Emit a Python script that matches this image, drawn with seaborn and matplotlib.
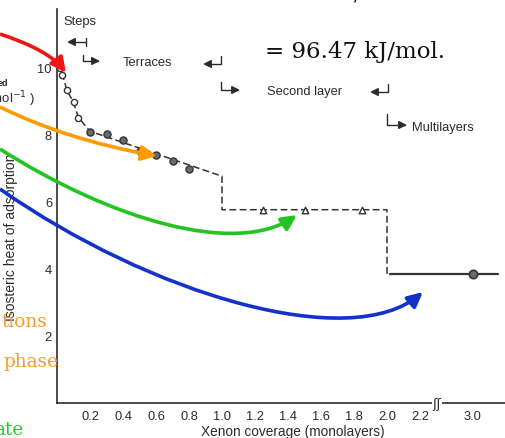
import numpy as np
import matplotlib
matplotlib.use("Agg")
import matplotlib.pyplot as plt
import seaborn as sns
from matplotlib.patches import FancyArrowPatch
from matplotlib.path import Path

# ---------------- data ----------------
step_x = [0.02, 0.03, 0.06, 0.10, 0.13]
step_y = [10.00, 9.77, 9.33, 8.96, 8.51]
terrace_x = [0.20, 0.30, 0.40, 0.50, 0.60, 0.70, 0.80]
terrace_y = [8.07, 8.02, 7.84, 7.50, 7.38, 7.21, 6.96]
second_x = [1.25, 1.50, 1.85]
second_y = [5.76, 5.76, 5.76]
multi_x = [3.0]
multi_y = [3.84]
fit_x = [0.01, 0.02, 0.06, 0.10, 0.13, 0.20, 1.00, 1.00, 2.00, 2.00]
fit_y = [10.12, 10.00, 9.33, 8.96, 8.51, 8.10, 6.76, 5.76, 5.76, 3.84]
multi_line_x = [2.02, 3.15]
multi_line_y = [3.84, 3.84]

x_major = [0.2, 0.4, 0.6, 0.8, 1.0, 1.2, 1.4, 1.6, 1.8, 2.0, 2.2, 3.0]
x_major_labels = ["0.2", "0.4", "0.6", "0.8", "1.0", "1.2", "1.4", "1.6",
                  "1.8", "2.0", "2.2", "3.0"]
x_minor = [0.3, 0.5, 0.7, 0.9, 1.1, 1.3, 1.5, 1.7, 1.9, 2.1, 2.9, 3.1]
y_major = [2, 4, 6, 8, 10]
y_major_labels = ["2", "4", "6", "8", "10"]
y_minor = [1, 3, 5, 7, 9]

# ---------------- style ----------------
sns.set_style("white")
plt.rcParams["font.family"] = ["Liberation Sans", "DejaVu Sans"]
INK = "#2b2b2b"

W, H = 505, 439
fig = plt.figure(figsize=(W / 100, H / 100), dpi=100)
ax = fig.add_axes([57 / W, 1 - 403.7 / H, 448 / W, 393.7 / H])

# broken x axis: values beyond the break are shifted left
BRK, GAP = 2.3, 0.48


def fwd(x):
    x = np.asarray(x, dtype=float)
    return np.where(x <= BRK, x, np.where(x >= BRK + GAP, x - GAP, BRK))


def inv(u):
    u = np.asarray(u, dtype=float)
    return np.where(u <= BRK, u, u + GAP)


ax.set_xscale("function", functions=(fwd, inv))
ax.set_xlim(0, 3.195)
ax.set_ylim(0, 11.75)

# ---------------- data marks ----------------
sns.lineplot(x=fit_x, y=fit_y, sort=False, estimator=None, ax=ax,
             color="#333333", lw=1.1, linestyle=(0, (4.5, 2.2)), zorder=2)
sns.lineplot(x=multi_line_x, y=multi_line_y, sort=False, estimator=None, ax=ax,
             color="#333333", lw=1.6, zorder=2)
sns.scatterplot(x=step_x, y=step_y, ax=ax, marker="o", s=20,
                facecolor="white", edgecolor="#333333", linewidth=1.0, zorder=3)
sns.scatterplot(x=terrace_x, y=terrace_y, ax=ax, marker="o", s=26,
                facecolor="#6a6a6a", edgecolor="#333333", linewidth=1.0, zorder=3)
sns.scatterplot(x=second_x, y=second_y, ax=ax, marker="^", s=22,
                facecolor="white", edgecolor="#333333", linewidth=1.0, zorder=3)
sns.scatterplot(x=multi_x, y=multi_y, ax=ax, marker="o", s=36,
                facecolor="#6a6a6a", edgecolor="#333333", linewidth=1.2, zorder=3)

# ---------------- axes ----------------
sns.despine(ax=ax, top=True, right=True)
for s in ("left", "bottom"):
    ax.spines[s].set_color(INK)
    ax.spines[s].set_linewidth(1.2)

ax.set_xticks(x_major)
ax.set_xticklabels(x_major_labels)
ax.set_xticks(x_minor, minor=True)
ax.set_yticks(y_major)
ax.set_yticklabels(y_major_labels)
ax.set_yticks(y_minor, minor=True)
ax.tick_params(axis="x", which="major", direction="in", length=9.4, width=1.0,
               color=INK, labelcolor=INK, labelsize=9.3, pad=5)
ax.tick_params(axis="x", which="minor", direction="in", length=6.0, width=1.0,
               color=INK)
ax.tick_params(axis="y", which="both", direction="in", length=9.0, width=1.0,
               color=INK, labelcolor=INK, labelsize=9.3, pad=3.6)

ax.set_xlabel("Xenon coverage (monolayers)", fontsize=9.8, color=INK)
ax.xaxis.set_label_coords(0.527, -0.055)
ax.set_ylabel("Isosteric heat of adsorption", fontsize=10, color=INK)
ax.yaxis.set_label_coords(-0.088, 0.423)


def P(x, y):
    return (x / W, 1 - y / H)


# axis break mark
fig.text(*P(437, 405), "ʃʃ", family="DejaVu Sans", fontsize=9.5, color=INK,
         ha="center", va="center",
         bbox=dict(boxstyle="square,pad=0.05", fc="white", ec="none"))

# region labels
for txt, x, y in [("Steps", 63, 22), ("Terraces", 123, 63),
                  ("Second layer", 267, 92), ("Multilayers", 412, 128)]:
    fig.text(*P(x, y), txt, fontsize=9.3, color=INK, ha="left", va="center")


def bracket(pts, lw=1.0):
    verts = [P(*p) for p in pts]
    codes = [Path.MOVETO] + [Path.LINETO] * (len(verts) - 1)
    a = FancyArrowPatch(path=Path(verts, codes), transform=fig.transFigure,
                        arrowstyle="-|>,head_length=0.6,head_width=0.3",
                        mutation_scale=8, lw=lw, color=INK)
    fig.add_artist(a)


bracket([(86, 43), (67, 43)])
fig.add_artist(plt.Line2D([86 / W, 86 / W], [1 - 39 / H, 1 - 47 / H],
                          transform=fig.transFigure, color=INK, lw=1.0))
bracket([(83, 56), (83, 62), (100, 62)])
bracket([(221, 57), (221, 65), (203, 65)])
bracket([(221, 83), (221, 91), (240, 91)])
bracket([(388, 85), (388, 93), (370, 93)])
bracket([(387, 115), (387, 126), (407, 126)])

# cut-off fragments of the original figure
fig.text(*P(8, 83), "ed", fontsize=6.5, weight="bold", color=INK,
         ha="right", va="center")
fig.text(*P(35, 99), "(kcal mol$^{-1}$ )", fontsize=9.5, color=INK,
         ha="right", va="center")

# slide texts
SERIF = "DejaVu Serif"
fig.text(*P(265, 58), "= 96.47 kJ/mol.", family=SERIF, fontsize=16.5,
         color="#111111", ha="left", va="baseline")
fig.text(*P(357, 1), "/", family=SERIF, fontsize=14, color="#111111",
         ha="center", va="baseline")
fig.text(*P(47, 327), "tions", family=SERIF, fontsize=13.3, color="#F59A2E",
         ha="right", va="baseline")
fig.text(*P(58, 367), "phase", family=SERIF, fontsize=13.3, color="#F59A2E",
         ha="right", va="baseline")
fig.text(*P(23, 435), "ate", family=SERIF, fontsize=13.3, color="#2DC42D",
         ha="right", va="baseline")


# colored curved arrows
def curved_arrow(pts, color):
    verts = [P(*p) for p in pts]
    if len(verts) == 3:
        codes = [Path.MOVETO, Path.CURVE3, Path.CURVE3]
    else:
        codes = [Path.MOVETO, Path.CURVE4, Path.CURVE4, Path.CURVE4]
    a = FancyArrowPatch(path=Path(verts, codes), transform=fig.transFigure,
                        arrowstyle="-|>,head_length=0.45,head_width=0.22",
                        mutation_scale=20, lw=2.6, color=color,
                        capstyle="butt", zorder=10)
    fig.add_artist(a)


curved_arrow([(0, 35), (49, 51), (66, 74)], "#F01414")
curved_arrow([(0, 108), (67, 141), (157, 157)], "#FF9A00")
curved_arrow([(0, 150), (110, 220), (235, 258), (297, 216)], "#22C422")
curved_arrow([(0, 190), (150, 295), (350, 355), (423, 293)], "#1432C8")

fig.savefig("out.png", dpi=100)
